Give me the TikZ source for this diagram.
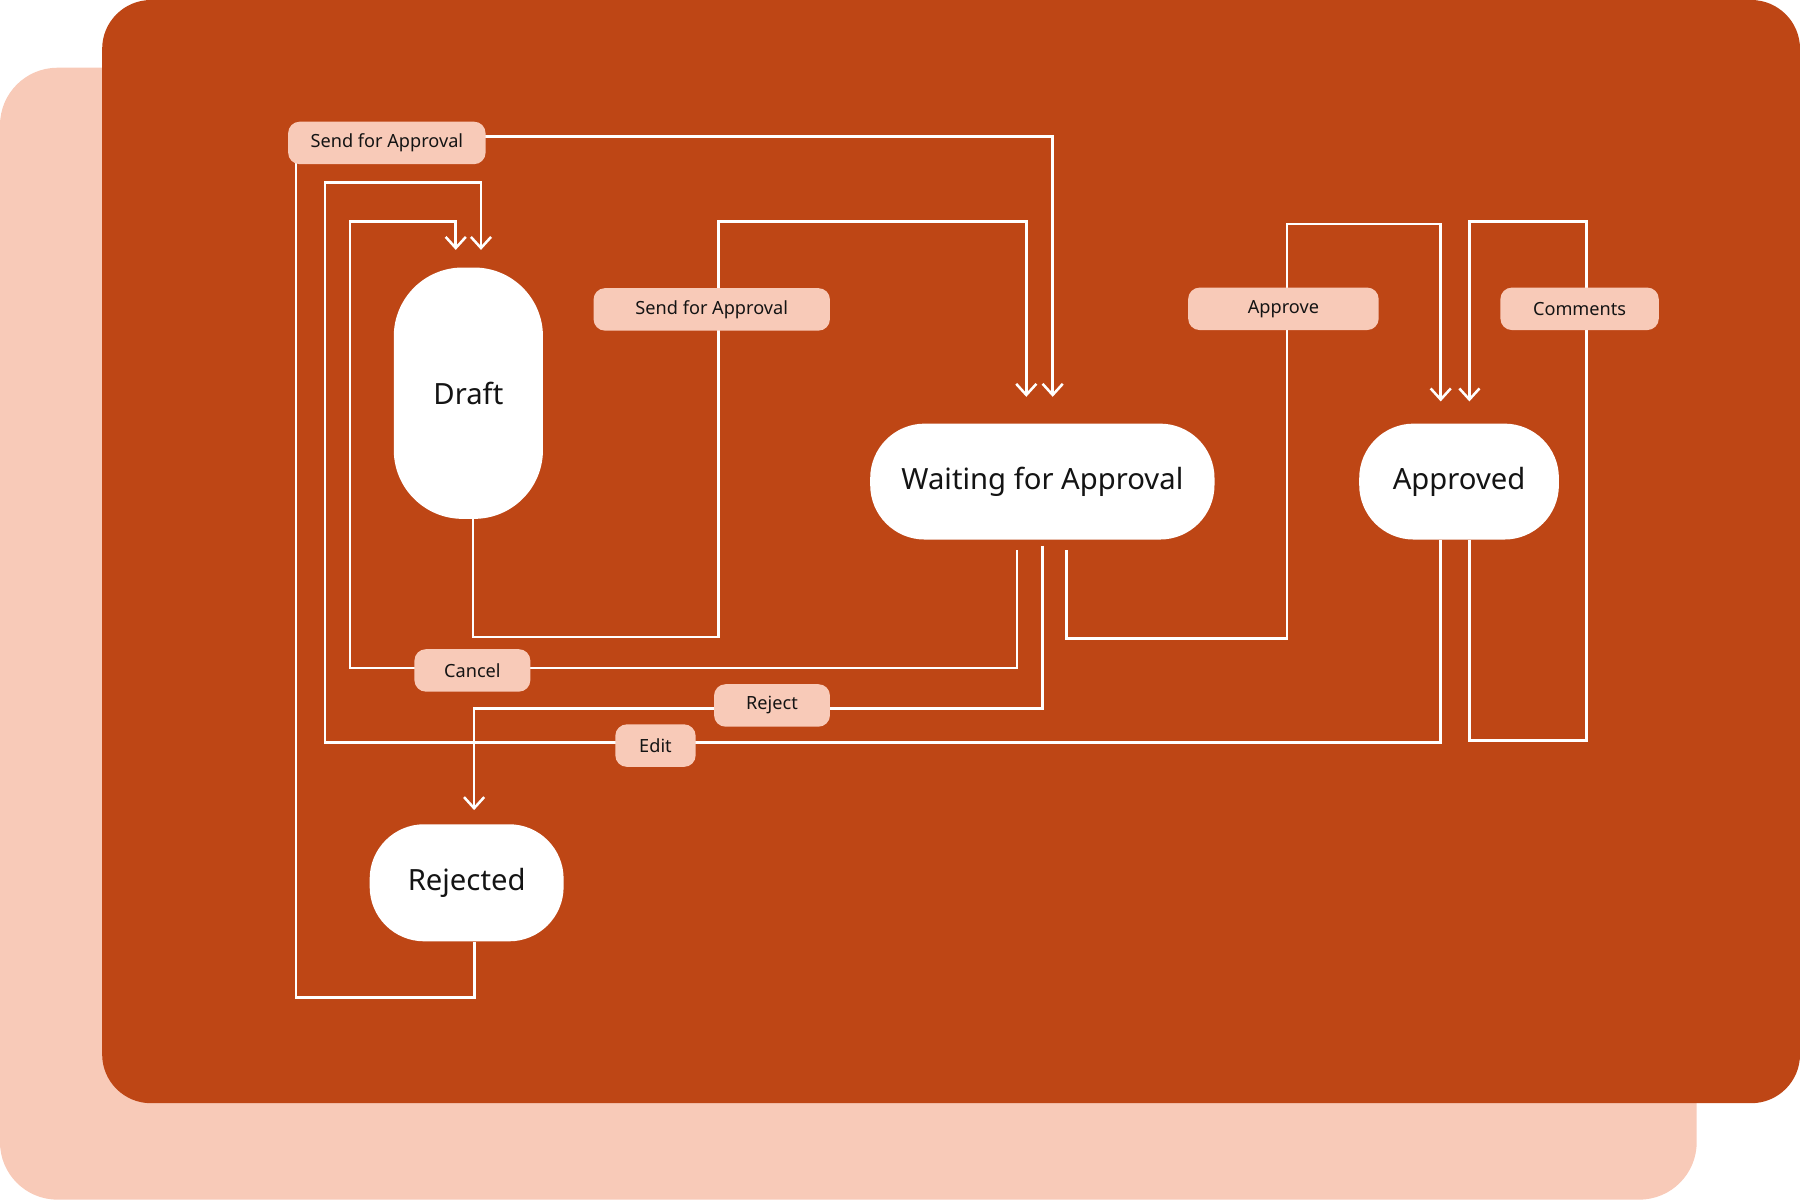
\documentclass[tikz,border=0pt]{standalone}
\usepackage{fontspec}
\setmainfont{Noto Sans}
\usetikzlibrary{arrows.meta,calc}
\definecolor{darkbg}{HTML}{BE4615}
\definecolor{lightbg}{HTML}{F8CAB8}
\definecolor{txt}{HTML}{141414}
\tikzset{
  statebox/.style={fill=white, text=txt, inner sep=0pt, font=\fontsize{14.5}{17}\selectfont},
  pill/.style={fill=lightbg, text=txt, inner sep=0pt, rounded corners=0.2cm,
     minimum height=0.74cm, font=\fontsize{9}{11}\selectfont},
  conn/.style={draw=white, line width=1.25pt},
  arr/.style={conn, -{Straight Barb[length=5.5pt,width=10pt,line width=1.25pt]}},
}
\begin{document}
\begin{tikzpicture}[x=0.02cm,y=-0.02cm]
\useasboundingbox (0,0) rectangle (1568,1045);
\fill[lightbg, rounded corners=1cm] (0,59) rectangle (1478,1045);
\fill[darkbg, rounded corners=0.85cm] (89,0) rectangle (1568,961);

% states
\node[statebox, rounded corners=1.2cm, minimum width=2.6cm, minimum height=4.38cm] (draft) at (408,342.5) {Draft};
\node[statebox, rounded corners=0.95cm, minimum width=6.0cm, minimum height=2.02cm] (waiting) at (908,419.5) {Waiting for Approval};
\node[statebox, rounded corners=0.95cm, minimum width=3.48cm, minimum height=2.02cm] (approved) at (1271,419.5) {Approved};
\node[statebox, rounded corners=0.95cm, minimum width=3.38cm, minimum height=2.04cm] (rejected) at (406.5,769) {Rejected};

% connectors
\draw[arr] ($(rejected.south)+(7,0)$) |- (258,869) -- (258,119) -| ($(waiting.north)+(9,-23)$);
\draw[arr] ($(approved.south)+(-16,0)$) |- (283,647) -- (283,159) -| ($(draft.north)+(11,-15)$);
\draw[arr] ($(waiting.south)+(-22,9)$) |- (305,582) -- (305,193) -| ($(draft.north)+(-11,-15)$);
\draw[arr] ($(draft.south)+(4,0)$) |- (626,555) -- (626,193) -| ($(waiting.north)+(-14,-23)$);
\draw[arr] ($(waiting.south)+(0,5)$) -- (908,617) -| ($(rejected.north)+(6.5,-12)$);
\draw[arr] ($(waiting.south)+(21,9)$) |- (1121,556) -- (1121,195) -| ($(approved.north)+(-16,-19)$);
\draw[arr] ($(approved.south)+(9,0)$) |- (1382,645) -- (1382,193) -| ($(approved.north)+(9,-19)$);

% labels
\node[pill, minimum width=3.44cm] (lsfa1) at (337,124.5) {Send for Approval};
\node[pill, minimum width=4.12cm] (lsfa2) at (620,269.5) {Send for Approval};
\node[pill, minimum width=3.32cm] (lapprove) at (1118,269) {Approve};
\node[pill, minimum width=2.76cm] (lcomments) at (1376,269) {Comments};
\node[pill, minimum width=2.02cm] (lcancel) at (411.5,584) {Cancel};
\node[pill, minimum width=2.02cm] (lreject) at (672.5,614.5) {Reject};
\node[pill, minimum width=1.4cm] (ledit) at (571,649.5) {Edit};
\end{tikzpicture}
\end{document}
